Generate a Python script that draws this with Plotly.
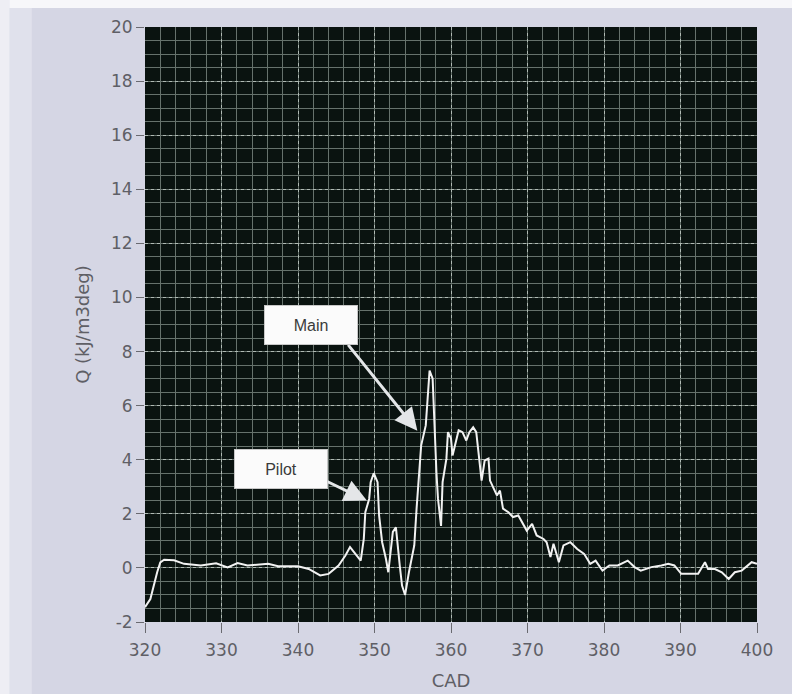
import plotly.graph_objects as go

# Heat release rate vs crank angle
cad = [320.0, 320.7, 321.6, 322.0, 322.5, 323.8, 325.1, 327.3, 329.3, 330.8,
       332.1, 333.4, 336.1, 337.4, 340.0, 341.4, 342.9, 344.0, 345.3, 346.2,
       346.8, 347.7, 348.2, 348.6, 348.8, 349.3, 349.5, 349.9, 350.4, 350.6,
       351.0, 351.5, 351.8, 352.1, 352.4, 352.8, 353.0, 353.3, 353.6, 354.0,
       354.5, 355.2, 355.5, 355.8, 356.1, 356.7, 356.9, 357.2, 357.6, 357.9,
       358.1, 358.3, 358.7, 358.9, 359.4, 359.6, 360.0, 360.2, 360.7, 361.0,
       361.5, 362.0, 362.4, 362.9, 363.3, 363.7, 364.0, 364.4, 364.9, 365.1,
       365.5, 366.0, 366.4, 366.8, 367.5, 368.1, 368.8, 369.5, 369.9, 370.6,
       371.2, 372.1, 372.5, 373.0, 373.4, 374.1, 374.7, 375.6, 376.5, 377.4,
       378.2, 378.9, 379.8, 380.7, 381.8, 383.1, 384.0, 384.8, 386.2, 387.5,
       388.4, 389.2, 390.1, 391.0, 392.3, 393.2, 393.6, 394.5, 395.4, 396.3,
       397.1, 398.0, 399.3, 400.0]
q = [-1.45, -1.15, -0.15, 0.2, 0.3, 0.28, 0.15, 0.09, 0.17, 0.02,
     0.18, 0.09, 0.15, 0.06, 0.06, -0.04, -0.28, -0.22, 0.09, 0.46,
     0.77, 0.46, 0.27, 1.07, 2.06, 2.55, 3.17, 3.5, 3.17, 1.94,
     0.95, 0.33, -0.16, 0.58, 1.33, 1.5, 0.83, 0.09, -0.65, -1.0,
     -0.16, 0.83, 2.19, 3.54, 4.53, 5.27, 6.26, 7.3, 7.0, 4.65,
     3.5, 2.56, 1.55, 3.17, 4.04, 5.02, 4.78, 4.16, 4.78, 5.09,
     5.02, 4.71, 5.02, 5.2, 5.02, 3.97, 3.23, 3.97, 4.04, 3.23,
     2.99, 2.68, 2.86, 2.19, 2.06, 1.88, 1.94, 1.57, 1.38, 1.63,
     1.2, 1.07, 0.95, 0.4, 0.89, 0.21, 0.83, 0.95, 0.7, 0.52,
     0.15, 0.27, -0.1, 0.09, 0.09, 0.27, 0.03, -0.1, 0.03, 0.09,
     0.15, 0.09, -0.22, -0.22, -0.22, 0.21, -0.04, -0.04, -0.16, -0.41,
     -0.16, -0.1, 0.21, 0.15]

# Labelled events: box centre, arrow tail and arrow tip in data units
labels = ["Main", "Pilot"]
box_x = [341.7, 337.8]
box_y = [9.0, 3.65]
tail_x = [346.4, 343.55]
tail_y = [8.3, 3.23]
tip_x = [355.6, 349.0]
tip_y = [5.07, 2.49]

x_ticks = [320, 330, 340, 350, 360, 370, 380, 390, 400]
y_ticks = [-2, 0, 2, 4, 6, 8, 10, 12, 14, 16, 18, 20]

fig = go.Figure()
fig.add_trace(go.Scatter(
    x=cad, y=q, mode="lines",
    line=dict(color="#f2f2f2", width=2),
    showlegend=False, hoverinfo="skip",
))

tick_font = dict(family="DejaVu Sans", size=17, color="#5f5f66")
title_font = dict(family="DejaVu Sans", size=18, color="#5f5f66")
grid_major = "#b0bab4"
grid_minor = "#66726c"

fig.update_xaxes(
    range=[320, 400], tickvals=x_ticks, ticktext=[str(v) for v in x_ticks],
    showgrid=True, gridcolor=grid_major, griddash="dot", gridwidth=1,
    minor=dict(dtick=2, showgrid=True, gridcolor=grid_minor, gridwidth=1,
               griddash="solid"),
    ticks="outside", ticklen=10, tickcolor="#6a6a70", tickfont=tick_font,
    ticklabelstandoff=3, automargin=False,
    zeroline=False, showline=False,
    title=dict(text="CAD", font=title_font, standoff=14),
)
fig.update_yaxes(
    range=[-2, 20], tickvals=y_ticks, ticktext=[str(v) for v in y_ticks],
    showgrid=True, gridcolor=grid_major, griddash="dot", gridwidth=1,
    minor=dict(dtick=0.5, showgrid=True, gridcolor=grid_minor, gridwidth=1,
               griddash="solid"),
    ticks="outside", ticklen=8, tickcolor="#6a6a70", tickfont=tick_font,
    automargin=False,
    zeroline=False, showline=False,
    title=dict(text="Q (kJ/m3deg)", font=title_font, standoff=16),
)

annotations = []
for i, lab in enumerate(labels):
    # arrow pointing at the event
    annotations.append(dict(
        x=tip_x[i], y=tip_y[i], xref="x", yref="y",
        ax=tail_x[i], ay=tail_y[i], axref="x", ayref="y",
        text="", showarrow=True, arrowhead=2, arrowsize=1.5,
        arrowwidth=3, arrowcolor="#e4e6e8",
    ))
    # label box
    annotations.append(dict(
        x=box_x[i], y=box_y[i], xref="x", yref="y",
        text=lab, showarrow=False,
        font=dict(family="Liberation Sans", size=16, color="#3a3a3a"),
        bgcolor="#fbfbfb", bordercolor="#c8c8c8", borderwidth=1,
        width=90, height=36, align="center", valign="middle",
    ))

fig.update_layout(
    width=792, height=694,
    margin=dict(l=145, r=35, t=27, b=72),
    paper_bgcolor="#d5d6e4",
    plot_bgcolor="#0a1310",
    annotations=annotations,
    shapes=[
        dict(type="rect", xref="paper", yref="paper",
             x0=-0.25, x1=1.1, y0=1.032, y1=1.06,
             fillcolor="#f7f7fa", line=dict(width=0), layer="below"),
        dict(type="rect", xref="paper", yref="paper",
             x0=-0.25, x1=-0.221, y0=-0.15, y1=1.06,
             fillcolor="#eeeef4", line=dict(width=0), layer="below"),
        dict(type="rect", xref="paper", yref="paper",
             x0=-0.221, x1=-0.185, y0=-0.15, y1=1.032,
             fillcolor="#e0e1ec", line=dict(width=0), layer="below"),
    ],
)

fig.write_html("out.html")
